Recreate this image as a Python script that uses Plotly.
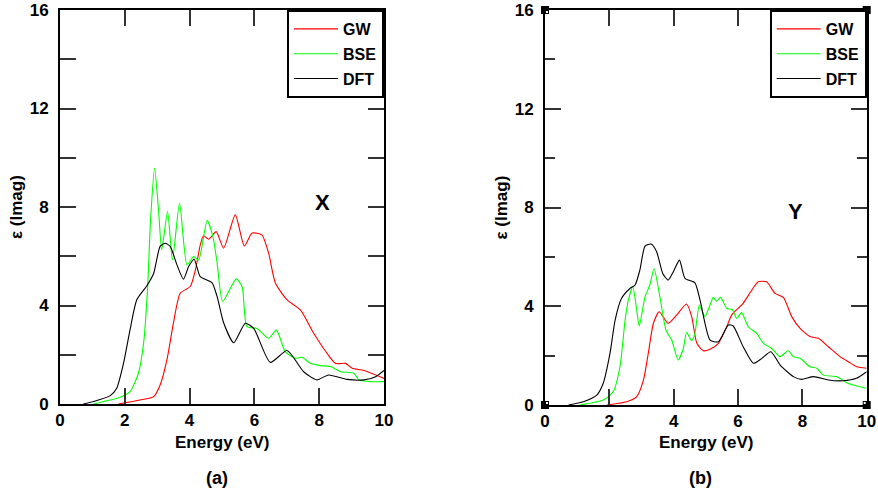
import plotly.graph_objects as go

# ---------------- Data ----------------
# Panel (a) : X polarisation
a_dft_x = [0.72, 1.03, 1.55, 1.75, 1.96, 2.16, 2.37, 2.68, 2.89, 3.09, 3.25, 3.40, 3.61, 3.81, 3.97, 4.14,
           4.33, 4.69, 4.85, 5.05, 5.36, 5.72, 5.98, 6.49, 7.01, 7.52, 7.93, 8.29, 8.86, 9.38, 9.74, 10.0]
a_dft_y = [0.0, 0.1, 0.34, 0.64, 1.65, 3.0, 4.23, 4.8, 5.3, 6.4, 6.53, 6.4, 5.65, 5.07, 5.58, 5.88,
           5.17, 4.93, 4.36, 3.3, 2.49, 3.28, 3.07, 1.69, 2.17, 1.31, 0.98, 1.18, 1.0, 0.98, 1.11, 1.36]

a_gw_x = [1.8, 2.47, 2.89, 3.09, 3.30, 3.50, 3.71, 4.02, 4.18, 4.33, 4.43, 4.59, 4.82, 5.05, 5.41, 5.69,
          5.93, 6.23, 6.44, 6.65, 7.01, 7.42, 7.83, 8.24, 8.50, 8.81, 9.02, 9.38, 10.0]
a_gw_y = [0.0, 0.16, 0.3, 0.77, 1.79, 3.28, 4.5, 4.77, 5.45, 6.46, 6.83, 6.69, 7.0, 6.33, 7.68, 6.42,
          6.94, 6.87, 6.12, 4.9, 4.23, 3.82, 2.87, 2.06, 1.65, 1.65, 1.45, 1.36, 1.04]

a_bse_x = [1.03, 1.86, 2.16, 2.42, 2.58, 2.70, 2.80, 2.92, 3.04, 3.14, 3.32, 3.47, 3.69, 3.92, 4.12, 4.28,
           4.54, 4.72, 4.85, 5.02, 5.44, 5.62, 5.77, 6.08, 6.44, 6.68, 6.95, 7.26, 7.47, 7.73, 8.04,
           8.35, 8.66, 9.07, 9.22, 9.58, 10.0]
a_bse_y = [0.0, 0.27, 0.5, 1.25, 2.47, 4.63, 7.6, 9.58, 7.89, 6.26, 7.82, 5.85, 8.16, 5.65, 5.99, 5.85,
           7.45, 6.8, 5.72, 4.16, 5.08, 4.77, 3.14, 3.07, 2.67, 3.0, 2.13, 1.86, 1.9, 1.65, 1.56,
           1.52, 1.31, 1.25, 0.98, 0.91, 0.91]

# Panel (b) : Y polarisation
b_dft_x = [0.73, 1.19, 1.61, 1.81, 2.02, 2.18, 2.38, 2.64, 2.80, 2.95, 3.11, 3.30, 3.47, 3.66, 3.83, 3.99,
           4.18, 4.35, 4.66, 4.82, 5.13, 5.39, 5.70, 5.85, 6.16, 6.48, 6.74, 7.02, 7.31, 7.72, 7.98,
           8.34, 8.81, 9.27, 9.68, 10.0]
b_dft_y = [0.0, 0.13, 0.4, 0.88, 2.09, 3.44, 4.32, 4.72, 4.86, 5.47, 6.44, 6.52, 6.21, 5.33, 5.06, 5.4,
           5.87, 5.13, 4.95, 4.25, 2.63, 2.56, 3.24, 3.2, 2.36, 1.69, 1.89, 2.16, 1.62, 1.15, 1.04,
           1.15, 1.01, 0.98, 1.08, 1.35]

b_gw_x = [1.92, 2.54, 2.85, 3.06, 3.21, 3.37, 3.55, 3.83, 4.09, 4.40, 4.56, 4.72, 4.92, 5.13, 5.39, 5.65,
          5.80, 6.16, 6.43, 6.63, 6.89, 7.15, 7.41, 7.67, 7.93, 8.24, 8.50, 8.81, 9.17, 9.43, 9.69, 10.0]
b_gw_y = [0.0, 0.13, 0.34, 1.01, 2.09, 3.31, 3.78, 3.31, 3.64, 4.09, 3.58, 2.5, 2.2, 2.26, 2.5, 3.17,
          3.64, 4.12, 4.66, 4.99, 4.99, 4.52, 4.36, 3.58, 3.1, 2.77, 2.7, 2.36, 1.96, 1.75, 1.55, 1.49]

b_bse_x = [1.09, 1.81, 2.12, 2.33, 2.49, 2.59, 2.73, 2.85, 2.93, 3.11, 3.26, 3.39, 3.57, 3.76, 3.94, 4.14,
           4.30, 4.40, 4.56, 4.66, 4.80, 4.97, 5.13, 5.23, 5.33, 5.46, 5.65, 5.82, 5.96, 6.11, 6.32,
           6.58, 6.79, 7.05, 7.31, 7.56, 7.72, 7.93, 8.24, 8.45, 8.65, 9.07, 9.38, 9.69, 10.0]
b_bse_y = [0.0, 0.2, 0.54, 1.55, 3.44, 4.25, 4.79, 3.85, 3.2, 4.39, 4.86, 5.53, 4.39, 3.04, 2.63, 1.82,
           2.29, 2.94, 2.6, 2.9, 4.05, 3.58, 4.05, 4.36, 4.2, 4.36, 3.91, 3.87, 3.51, 3.74, 3.17,
           2.9, 2.5, 2.29, 1.96, 2.2, 1.96, 1.89, 1.55, 1.49, 1.21, 1.15, 0.9, 0.77, 0.68]

series_names = ["GW", "BSE", "DFT"]
series_colors = ["#ff0000", "#00ff00", "#000000"]
x_ticks = [0, 2, 4, 6, 8, 10]
y_ticks = [0, 4, 8, 12, 16]
panel_labels = ["(a)", "(b)"]
panel_tags = ["X", "Y"]

# ---------------- Figure ----------------
FONT = "Liberation Sans, Arial, Helvetica, sans-serif"
W, H = 878, 496


def px(xp):
    return xp / W


def py(yp):
    return 1 - yp / H


fig = go.Figure()

panels = [
    ("x", "y", "legend", [(a_gw_x, a_gw_y), (a_bse_x, a_bse_y), (a_dft_x, a_dft_y)]),
    ("x2", "y2", "legend2", [(b_gw_x, b_gw_y), (b_bse_x, b_bse_y), (b_dft_x, b_dft_y)]),
]
for xa, ya, leg, data in panels:
    for (xs, ys), name, col in zip(data, series_names, series_colors):
        fig.add_trace(go.Scatter(
            x=xs, y=ys, mode="lines", name=name, xaxis=xa, yaxis=ya,
            line=dict(color=col, width=1.1, shape="spline", smoothing=0.6),
            legend=leg, legendgroup=leg + name, hoverinfo="skip"))

# pixel geometry of the two plot boxes (reference picture pixels)
dom_a_x = [px(60), px(384)]
dom_b_x = [px(545), px(866.7)]
dom_a_y = [py(404), py(10)]
dom_b_y = [py(405), py(10)]

tickfont = dict(family=FONT, size=17, color="black", weight="bold")


def xaxis(dom, anchor):
    return dict(domain=dom, anchor=anchor, range=[0, 10], tickvals=x_ticks,
                ticktext=[str(v) for v in x_ticks], ticks="inside", ticklen=16,
                tickwidth=1.5, tickcolor="#333", showline=True, linecolor="black",
                linewidth=2, mirror="ticks", showgrid=False, zeroline=False,
                tickfont=tickfont, ticklabelstandoff=0, automargin=False,
                ticklabeloverflow="allow")


def yaxis(dom, anchor, minor_len):
    return dict(domain=dom, anchor=anchor, range=[0, 16], tickvals=y_ticks,
                ticktext=[str(v) for v in y_ticks], ticks="inside", ticklen=16,
                tickwidth=1.5, tickcolor="#333", showline=True, linecolor="black",
                linewidth=2, mirror="ticks", showgrid=False, zeroline=False,
                tickfont=tickfont, ticklabelstandoff=6, automargin=False,
                ticklabeloverflow="allow",
                minor=dict(dtick=2, ticks="inside", ticklen=minor_len, tickwidth=1.5,
                           tickcolor="#333", showgrid=False))


legfont = dict(family=FONT, size=16, color="black", weight="bold")
fig.update_layout(
    width=W, height=H, margin=dict(l=0, r=0, t=0, b=0, autoexpand=False),
    paper_bgcolor="white", plot_bgcolor="white",
    xaxis=xaxis(dom_a_x, "y"), yaxis=yaxis(dom_a_y, "x", 16),
    xaxis2=xaxis(dom_b_x, "y2"), yaxis2=yaxis(dom_b_y, "x2", 10),
    legend=dict(x=dom_a_x[1], y=dom_a_y[1], xanchor="right", yanchor="top",
                bordercolor="black", borderwidth=2, bgcolor="white", font=legfont,
                itemwidth=44, tracegroupgap=1),
    legend2=dict(x=dom_b_x[1], y=dom_b_y[1], xanchor="right", yanchor="top",
                 bordercolor="black", borderwidth=2, bgcolor="white", font=legfont,
                 itemwidth=44, tracegroupgap=1),
    showlegend=True,
)

title_font = dict(family=FONT, size=17, color="black", weight="bold")
annos = []
for dom_x, dom_y, lab in [(dom_a_x, dom_a_y, panel_labels[0]),
                          (dom_b_x, dom_b_y, panel_labels[1])]:
    cx = (dom_x[0] + dom_x[1]) / 2
    annos.append(dict(text="Energy (eV)", x=cx, y=py(442), xref="paper", yref="paper",
                      showarrow=False, font=title_font, xanchor="center", yanchor="middle"))
    annos.append(dict(text=lab, x=cx - 5 / W, y=py(478), xref="paper", yref="paper",
                      showarrow=False, font=dict(family=FONT, size=18, color="black", weight="bold"),
                      xanchor="center", yanchor="middle"))
    annos.append(dict(text="ε (Imag)", x=dom_x[0] - 44 / W, y=(dom_y[0] + dom_y[1]) / 2,
                      xref="paper", yref="paper", textangle=-90, showarrow=False,
                      font=dict(family=FONT, size=17, color="black", weight="bold"),
                      xanchor="center", yanchor="middle"))
fig.update_layout(annotations=annos)
fig.add_annotation(text=panel_tags[0], x=8.1, y=8.2, xref="x", yref="y", showarrow=False,
                   font=dict(family=FONT, size=22, color="black", weight="bold"))
fig.add_annotation(text=panel_tags[1], x=7.8, y=7.85, xref="x2", yref="y2", showarrow=False,
                   font=dict(family=FONT, size=22, color="black", weight="bold"))

# small corner markers on panel (b)
for cxr in (0, 1):
    for cyr in (0, 1):
        fig.add_shape(type="rect", xref="x2 domain", yref="y2 domain",
                      xsizemode="pixel", ysizemode="pixel", xanchor=cxr, yanchor=cyr,
                      x0=-4, x1=4, y0=-4, y1=4, fillcolor="black", line=dict(width=0),
                      layer="above")
        dx = 1 if cxr == 0 else -1
        dy = 1 if cyr == 0 else -1
        fig.add_shape(type="rect", xref="x2 domain", yref="y2 domain",
                      xsizemode="pixel", ysizemode="pixel", xanchor=cxr, yanchor=cyr,
                      x0=min(dx * 1, dx * 3), x1=max(dx * 1, dx * 3),
                      y0=min(dy * 1, dy * 3), y1=max(dy * 1, dy * 3),
                      fillcolor="white", line=dict(width=0), layer="above")

fig.write_html("out.html", config={"displayModeBar": False},
               post_script="document.body.style.margin='0px';document.body.style.overflow='hidden';")
